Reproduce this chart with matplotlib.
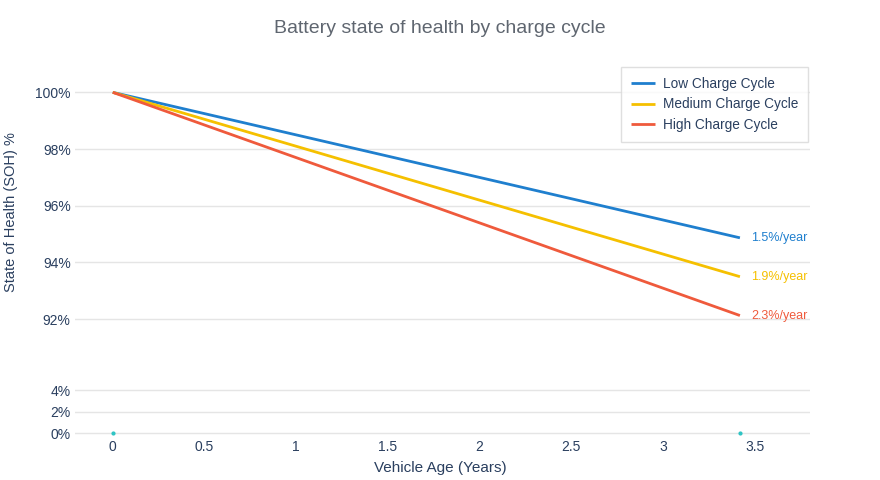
import matplotlib.pyplot as plt
from matplotlib.ticker import FuncFormatter

plt.rcParams['font.family'] = ['Liberation Sans', 'DejaVu Sans']

# data
age = [0, 3.42]
low_soh = [100, 94.87]
medium_soh = [100, 93.5]
high_soh = [100, 92.13]
series_names = ["Low Charge Cycle", "Medium Charge Cycle", "High Charge Cycle"]
rate_labels = ["1.5%/year", "1.9%/year", "2.3%/year"]
colors = ["#1f7fce", "#f5c000", "#ef5a3c"]
marker_age = [0, 3.42]
marker_soh = [0, 0]
x_ticks = [0, 0.5, 1, 1.5, 2, 2.5, 3, 3.5]
top_ticks = [92, 94, 96, 98, 100]
bottom_ticks = [0, 2, 4]

text_color = "#2a3f5f"
grid_color = "#e5e5e5"

fig = plt.figure(figsize=(8.8, 4.8), dpi=100)
ax_top = fig.add_axes([0.085, 0.2877, 0.835, 0.579])
ax_bot = fig.add_axes([0.085, 0.0867, 0.835, 0.123], sharex=ax_top)

pct = FuncFormatter(lambda v, p: f"{v:.0f}%")

for ax in (ax_top, ax_bot):
    for s in ax.spines.values():
        s.set_visible(False)
    ax.grid(axis="y", color=grid_color, linewidth=1)
    ax.set_axisbelow(True)
    ax.tick_params(length=0, labelsize=10, colors=text_color)
    ax.tick_params(axis="y", pad=3)
    ax.tick_params(axis="x", pad=1)
    ax.yaxis.set_major_formatter(pct)

for ys, name, c in zip([low_soh, medium_soh, high_soh], series_names, colors):
    ax_top.plot(age, ys, color=c, linewidth=2, label=name, solid_capstyle="butt")

for ys, lab, c in zip([low_soh, medium_soh, high_soh], rate_labels, colors):
    ax_top.annotate(lab, (age[-1], ys[-1]), xytext=(8, 0), textcoords="offset points",
                    color=c, fontsize=9, va="center", ha="left")

ax_top.set_ylim(91.2, 101)
ax_top.set_yticks(top_ticks)
ax_top.tick_params(axis="x", labelbottom=False)

ax_bot.scatter(marker_age, marker_soh, s=4, color="#2ec4c4", zorder=3)
ax_bot.set_ylim(-0.5, 5)
ax_bot.set_yticks(bottom_ticks)
ax_bot.set_xticks(x_ticks)
ax_bot.xaxis.set_major_formatter(FuncFormatter(lambda v, p: f"{v:g}"))
ax_bot.set_xlim(-0.207, 3.80)

fig.text(0.5, 0.941, "Battery state of health by charge cycle", ha="center", va="center",
         fontsize=14, color="#5f6670")
fig.text(0.5, 0.024, "Vehicle Age (Years)", ha="center", va="center", fontsize=11, color=text_color)
fig.text(0.013, 1 - 212 / 480, "State of Health (SOH) %", ha="center", va="center", rotation=90,
         fontsize=10.5, color=text_color)

leg = ax_top.legend(loc="upper left", bbox_to_anchor=(621 / 880, 1 - 67 / 480),
                    bbox_transform=fig.transFigure, frameon=True, fancybox=False,
                    fontsize=9.8, labelcolor=text_color, handlelength=1.8,
                    borderpad=0.7, labelspacing=0.5, handletextpad=0.6, borderaxespad=0)
leg.get_frame().set_edgecolor("#d8d8d8")
leg.get_frame().set_linewidth(1)

fig.savefig("out.png", dpi=100)
